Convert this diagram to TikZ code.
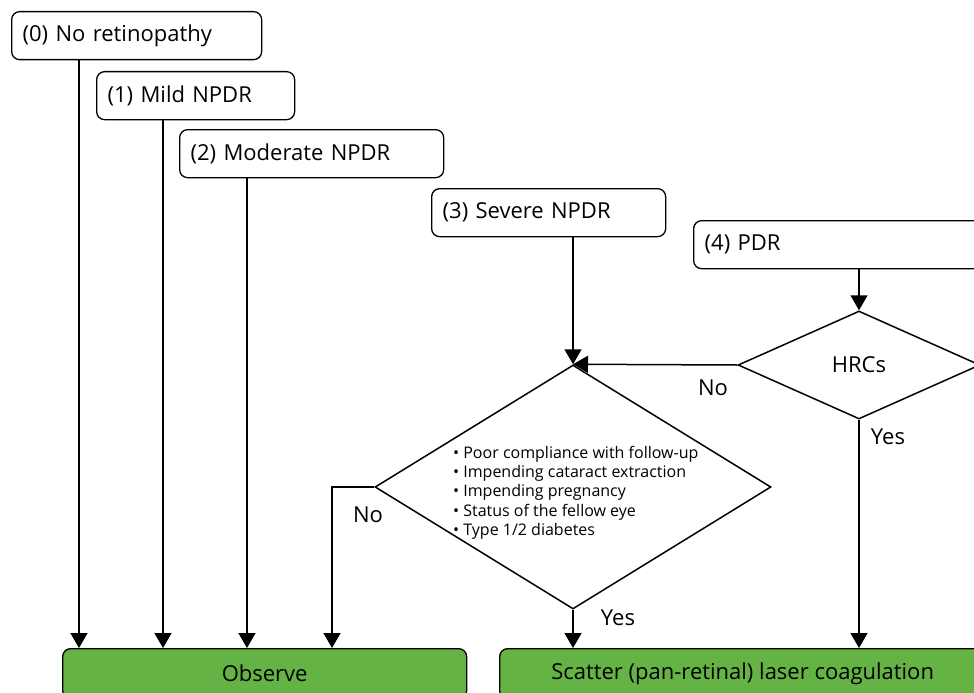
\documentclass[tikz,border=0pt]{standalone}
\usepackage{fontspec}
\setmainfont{Open Sans}
\usetikzlibrary{arrows.meta,shapes.geometric}
\definecolor{actgreen}{HTML}{65B345}
\newcommand{\itembul}{\textbullet\ }
\tikzset{
  line/.style={line width=1.5pt, black},
  arr/.style={line, -{Triangle[length=15pt,width=17pt]}},
  bigfont/.style={font=\fontsize{22}{26}\selectfont},
  stagebox/.style={draw, line width=1.3pt, rounded corners=8pt, minimum height=48pt,
    inner xsep=11pt, inner ysep=0pt, align=left, anchor=north west, bigfont},
  actbox/.style={draw, line width=1.3pt, fill=actgreen, rounded corners=8pt,
    minimum height=50pt, anchor=north west, bigfont},
  decide/.style={draw, line width=1.5pt, diamond, inner sep=0pt},
  lbl/.style={bigfont, inner sep=0pt},
}
\begin{document}
\begin{tikzpicture}[x=1pt,y=-1pt]
\useasboundingbox (0,0) rectangle (974,693);

% disease stages
\node[stagebox, text width=228pt] (s0) at (11,11)  {(0) No retinopathy};
\node[stagebox, text width=176pt] (s1) at (96,71)  {(1) Mild NPDR};
\node[stagebox, text width=242pt] (s2) at (179,129) {(2) Moderate NPDR};
\node[stagebox, text width=212pt] (s3) at (431,188) {(3) Severe NPDR};
\node[stagebox, text width=300pt] (s4) at (693,220) {(4) PDR};

% decisions
\node[decide, minimum width=396pt, minimum height=244pt] (d1) at (573,487) {};
\node[anchor=north west, inner sep=0pt, align=left,
      font=\fontsize{16}{19.2}\selectfont] (d1t) at (453,446)
  {\itembul Poor compliance with follow-up\\
   \itembul Impending cataract extraction\\
   \itembul Impending pregnancy\\
   \itembul Status of the fellow eye\\
   \itembul Type 1/2 diabetes};
\node[decide, minimum width=242pt, minimum height=108pt, bigfont] (d2) at (859,365) {HRCs};

% treatments
\node[actbox, minimum width=404pt] (obs) at (62,648) {Observe};
\node[actbox, minimum width=486pt] (scat) at (499,648) {Scatter (pan-retinal) laser coagulation};

% connectors
\draw[arr] ([xshift=68pt]s0.south west) coordinate (a0) -- (a0 |- obs.north);
\draw[arr] ([xshift=67pt]s1.south west) coordinate (a1) -- (a1 |- obs.north);
\draw[arr] ([xshift=68pt]s2.south west) coordinate (a2) -- (a2 |- obs.north);
\draw[arr] (d1.north |- s3.south) -- (d1.north);
\draw[arr] (d2.north |- s4.south) -- (d2.north);
\draw[arr] (d2.west) -- (d1.north);
\draw[arr] (d1.west) -| ([xshift=270pt]obs.north west);
\draw[arr] (d1.south) -- (d1.south |- scat.north);
\draw[arr] (d2.south) -- (d2.south |- scat.north);

% branch labels
\node[lbl] (n2) at (713,388) {No};
\node[lbl] (n1) at (368,515) {No};
\node[lbl] (y1) at (618,618) {Yes};
\node[lbl] (y2) at (888,437) {Yes};
\end{tikzpicture}
\end{document}
